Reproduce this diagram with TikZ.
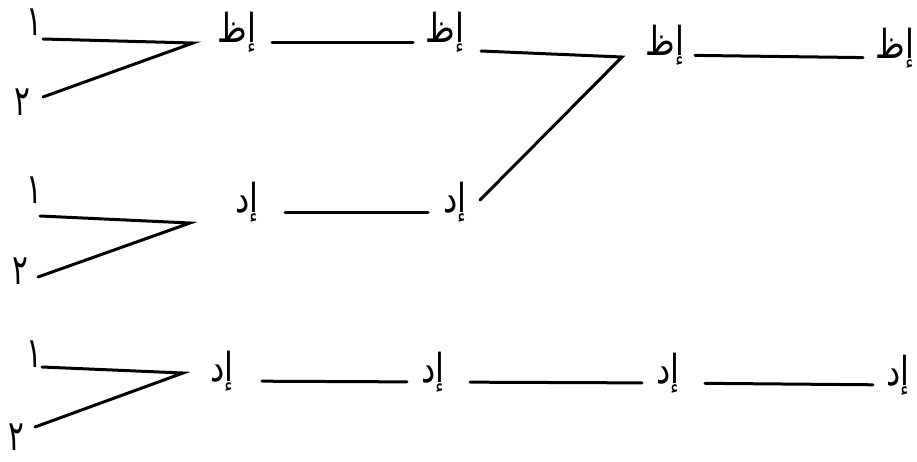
\documentclass[tikz,border=0pt]{standalone}
\usepackage{fontspec}
\usepackage{graphicx}
\TeXXeTstate=1
\newfontfamily\arabicfont[Script=Arabic]{DejaVu Sans}
\tikzset{
  lbl/.style={inner sep=0pt, outer sep=0pt, text height=14pt, text depth=14pt,
    font=\arabicfont\fontsize{40}{40}\selectfont},
  digit/.style={inner sep=0pt, outer sep=0pt,
    font=\arabicfont\fontsize{42}{42}\selectfont},
  ln/.style={line width=3pt, line cap=round}
}
\newcommand{\ar}[1]{\makebox[0pt]{\scalebox{0.8}[1]{\beginR #1\endR}}}
\newcommand{\dg}[1]{\makebox[0pt]{\scalebox{0.7}[1]{\beginR #1\endR}}}
\begin{document}
\begin{tikzpicture}[x=1pt,y=-1pt]
\useasboundingbox (0,0) rectangle (917,461);
% row 1
\node[digit] (d1a) at (34,22) {\dg{١}};
\node[digit] (d1b) at (22,102) {\dg{٢}};
\coordinate (v1) at (193,43);
\node[lbl] (L1a) at (237,42) {\ar{إظ}};
\node[lbl] (L1b) at (445,42) {\ar{إظ}};
\coordinate (v2) at (622,57);
\node[lbl] (L1c) at (665,55) {\ar{إظ}};
\node[lbl] (L1d) at (895,58) {\ar{إظ}};
% row 2
\node[digit] (d2a) at (34,190) {\dg{١}};
\node[digit] (d2b) at (20,271) {\dg{٢}};
\coordinate (v3) at (190,223);
\node[lbl] (L2a) at (247,212) {\ar{إد}};
\node[lbl] (L2b) at (455,212) {\ar{إد}};
% row 3
\node[digit] (d3a) at (34,354) {\dg{١}};
\node[digit] (d3b) at (16,437) {\dg{٢}};
\coordinate (v4) at (183,373);
\node[lbl] (L3a) at (222,381) {\ar{إد}};
\node[lbl] (L3b) at (433,382) {\ar{إد}};
\node[lbl] (L3c) at (668,383) {\ar{إد}};
\node[lbl] (L3d) at (898,385) {\ar{إد}};
% forks
\draw[ln] ([shift={(9,17)}]d1a.center) -- (v1) -- ([shift={(21,-5)}]d1b.center);
\draw[ln] ([shift={(6,26)}]d2a.center) -- (v3) -- ([shift={(18,6)}]d2b.center);
\draw[ln] ([shift={(8,13)}]d3a.center) -- (v4) -- ([shift={(19,-10)}]d3b.center);
% row 1 lines
\draw[ln, shorten <=35pt, shorten >=32pt] (L1a.center) -- (L1b.center);
\draw[ln] ([shift={(36,9)}]L1b.center) -- (v2) -- ([shift={(25,-12)}]L2b.center);
\draw[ln, shorten <=30pt, shorten >=32pt] (L1c.center) -- (L1d.center);
% row 2 lines
\draw[ln, shorten <=38pt, shorten >=27pt] (L2a.center) -- (L2b.center);
% row 3 lines
\draw[ln, shorten <=40pt, shorten >=26pt] (L3a.center) -- (L3b.center);
\draw[ln, shorten <=37pt, shorten >=26pt] (L3b.center) -- (L3c.center);
\draw[ln, shorten <=37pt, shorten >=25pt] (L3c.center) -- (L3d.center);
\end{tikzpicture}
\end{document}
